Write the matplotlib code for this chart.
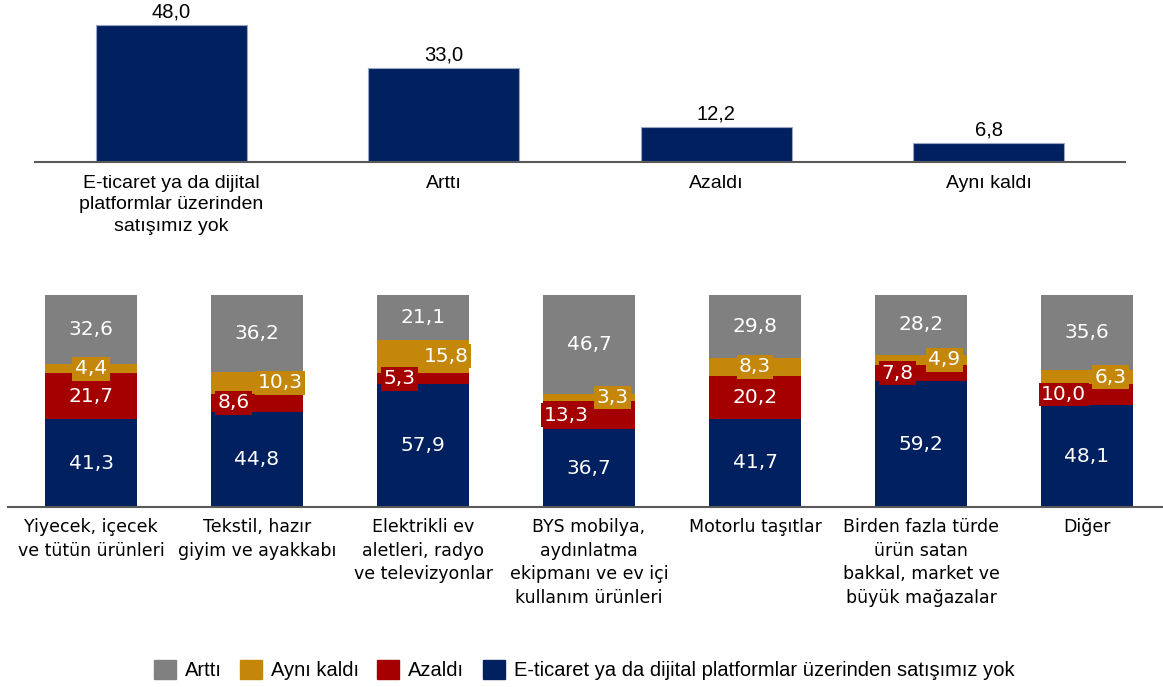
import numpy as np
import matplotlib
matplotlib.use("Agg")
import matplotlib.pyplot as plt
from matplotlib.patches import Patch

# ------------------------------------------------------------------ #
# Data

top_labels = ['E-ticaret ya da dijital\nplatformlar üzerinden\nsatışımız yok',
              'Arttı', 'Azaldı', 'Aynı kaldı']
top_values = [48.0, 33.0, 12.2, 6.8]

sectors = ['Yiyecek, içecek\nve tütün ürünleri',
           'Tekstil, hazır\ngiyim ve ayakkabı',
           'Elektrikli ev\naletleri, radyo\nve televizyonlar',
           'BYS mobilya,\naydınlatma\nekipmanı ve ev içi\nkullanım ürünleri',
           'Motorlu taşıtlar',
           'Birden fazla türde\nürün satan\nbakkal, market ve\nbüyük mağazalar',
           'Diğer']
no_online = [41.3, 44.8, 57.9, 36.7, 41.7, 59.2, 48.1]
decreased = [21.7, 8.6, 5.3, 13.3, 20.2, 7.8, 10.0]
same = [4.4, 10.3, 15.8, 3.3, 8.3, 4.9, 6.3]
increased = [32.6, 36.2, 21.1, 46.7, 29.8, 28.2, 35.6]

# label shift for the thin segments (-1 left, 0 centre, +1 right)
shift_decreased = [0, -1, -1, -1, 0, -1, -1]
shift_same = [0, 1, 1, 1, 0, 1, 1]

navy = '#002060'
red = '#A50000'
gold = '#C4870A'
gray = '#808080'
axis_col = '#595959'

fig = plt.figure(figsize=(11.63, 6.87), dpi=100)

# ------------------------------------------------------------------ #
# Top chart

ax1 = fig.add_axes([35/1163, 525/687, 1090/1163, 162/687])
x = np.arange(len(top_values))
ax1.bar(x, top_values, width=0.555, color=navy, edgecolor='#9aa6c4', linewidth=0.8)
for xi, v in zip(x, top_values):
    ax1.text(xi, v + 1.2, ('%.1f' % v).replace('.', ','), ha='center', va='bottom',
             fontsize=14.5, family='Liberation Sans', color='black')
ax1.set_xlim(-0.5, 3.5)
ax1.set_ylim(0, 56.8)
ax1.set_xticks(x)
ax1.set_xticklabels(top_labels, fontsize=14, family='Liberation Sans', linespacing=1.35)
ax1.tick_params(axis='x', length=0, pad=9)
ax1.set_yticks([])
for s in ['top', 'left', 'right']:
    ax1.spines[s].set_visible(False)
ax1.spines['bottom'].set_color(axis_col)
ax1.spines['bottom'].set_linewidth(1.5)

# ------------------------------------------------------------------ #
# Bottom stacked chart

ax2 = fig.add_axes([8/1163, 180/687, 1155/1163, 212/687])
x2 = np.arange(len(sectors))
w = 0.554
series = [(no_online, navy, None), (decreased, red, shift_decreased),
          (same, gold, shift_same), (increased, gray, None)]
bottom = np.zeros(len(sectors))
for vals, col, shifts in series:
    vals = np.array(vals)
    ax2.bar(x2, vals, width=w, bottom=bottom, color=col, edgecolor='none')
    for i, v in enumerate(vals):
        dx = 0 if shifts is None else shifts[i] * 0.14
        ax2.text(x2[i] + dx, bottom[i] + v / 2, ('%.1f' % v).replace('.', ','),
                 ha='center', va='center', fontsize=14.5, color='white',
                 family='DejaVu Sans',
                 bbox=dict(boxstyle='square,pad=0.12', fc=col, ec='none'))
    bottom += vals

ax2.set_xlim(-0.5, -0.5 + 1155/166)
ax2.set_ylim(0, 100)
ax2.set_xticks(x2)
ax2.set_xticklabels(sectors, fontsize=12.5, family='DejaVu Sans', linespacing=1.4, va='top')
ax2.tick_params(axis='x', length=0, pad=8)
ax2.set_yticks([])
for s in ['top', 'left', 'right']:
    ax2.spines[s].set_visible(False)
ax2.spines['bottom'].set_color(axis_col)
ax2.spines['bottom'].set_linewidth(1.5)

# ------------------------------------------------------------------ #
# Legend

handles = [Patch(color=gray), Patch(color=gold), Patch(color=red), Patch(color=navy)]
names = ['Arttı', 'Aynı kaldı', 'Azaldı',
         'E-ticaret ya da dijital platformlar üzerinden satışımız yok']
fig.legend(handles, names, loc='center', bbox_to_anchor=(584/1163, 17/687), ncol=4,
           frameon=False, handlelength=1.1, handleheight=1.1, handletextpad=0.45,
           columnspacing=0.9, prop={'family': 'Liberation Sans', 'size': 14.5})

fig.savefig('out.png', dpi=100)
